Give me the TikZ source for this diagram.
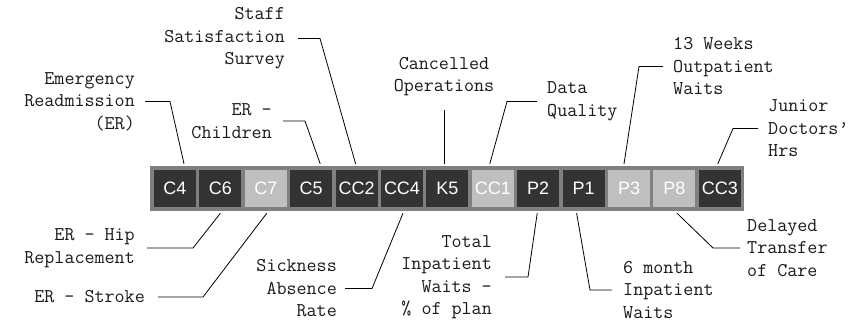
\documentclass[tikz,border=0pt]{standalone}
\usepackage{fontspec}
\newfontfamily\boxfont{Liberation Sans}
\begin{document}
\begin{tikzpicture}[x=1pt,y=-1pt,
  lbl/.style={inner sep=0pt, font=\ttfamily\addfontfeature{FakeStretch=1.085}\fontsize{19.5}{22.5}\selectfont, text=black!90},
  kpi/.style={minimum width=42pt, minimum height=37pt, inner sep=0pt,
    text=white, font=\boxfont\fontsize{18}{18}\selectfont},
  dark/.style={kpi, fill=black!80},
  light/.style={kpi, fill=black!25},
  lead/.style={draw=black, line width=0.8pt}]
\useasboundingbox (0,0) rectangle (853,321);

% strip holding the indicator boxes
\node[fill=black!50, minimum width=594pt, minimum height=45pt, inner sep=0pt] (bar) at (447,188.5) {};

\node[dark]  (c4)  at (175,188.5) {C4};
\node[dark]  (c6)  at (220.4,188.5) {C6};
\node[light] (c7)  at (265.8,188.5) {C7};
\node[dark]  (c5)  at (311.2,188.5) {C5};
\node[dark]  (cc2) at (356.6,188.5) {CC2};
\node[dark]  (cc4) at (402,188.5) {CC4};
\node[dark]  (k5)  at (447.4,188.5) {K5};
\node[light] (cc1) at (492.8,188.5) {CC1};
\node[dark]  (p2)  at (538.2,188.5) {P2};
\node[dark]  (p1)  at (583.6,188.5) {P1};
\node[light] (p3)  at (629,188.5) {P3};
\node[light] (p8)  at (674.4,188.5) {P8};
\node[dark]  (cc3) at (719.8,188.5) {CC3};

% labels above the strip
\node[lbl, align=right, anchor=east]  (emerg)  at (135,101.5) {Emergency\\Readmission\\(ER)};
\node[lbl, align=right, anchor=east]  (staff)  at (285,38.5)  {Staff\\Satisfaction\\Survey};
\node[lbl, align=right, anchor=east]  (child)  at (272,121)   {ER -\\Children};
\node[lbl, align=center, anchor=center] (cancel) at (444,76.5) {Cancelled\\Operations};
\node[lbl, align=left, anchor=west]   (dataq)  at (547,101.5) {Data\\Quality};
\node[lbl, align=left, anchor=west]   (weeks)  at (673,66.5)  {13 Weeks\\Outpatient\\Waits};
\node[lbl, align=left, anchor=west]   (junior) at (768,128.5) {Junior\\Doctors’\\Hrs};

% labels below the strip
\node[lbl, align=right, anchor=east]  (hip)    at (135,248)   {ER – Hip\\Replacement};
\node[lbl, anchor=east]               (stroke) at (145,297)   {ER – Stroke};
\node[lbl, align=right, anchor=east]  (sick)   at (337,288.5) {Sickness\\Absence\\Rate};
\node[lbl, align=right, anchor=east]  (total)  at (492,277)   {Total\\Inpatient\\Waits -\\\% of plan};
\node[lbl, align=left, anchor=west]   (six)    at (623,290) {6 month\\Inpatient\\Waits};
\node[lbl, align=left, anchor=west]   (delay)  at (747,248)   {Delayed\\Transfer\\of Care};

% leader lines, label -> box
\draw[lead] ([xshift=10pt]emerg.east) -- (170,101.5) -- ([xshift=9pt,yshift=6pt]c4.north);
\draw[lead] ([xshift=11pt]child.east) -- (305,121) -- ([xshift=9pt,yshift=6pt]c5.north);
\draw[lead] ([xshift=13pt]staff.east) -- (320,38.5) -- ([xshift=-1pt,yshift=6pt]cc2.north);
\draw[lead] ([yshift=-14pt]cancel.south) -- ([yshift=6pt]cancel.south |- k5.north);
\draw[lead] ([xshift=-10pt]dataq.west) -- (507,101.5) -- ([xshift=-3pt,yshift=6pt]cc1.north);
\draw[lead] ([xshift=-10pt]weeks.west) -- (639,66.5) -- ([xshift=-5pt,yshift=6pt]p3.north);
\draw[lead] ([xshift=-10pt]junior.west) -- (733,128.5) -- ([xshift=-2pt,yshift=6pt]cc3.north);

\draw[lead] ([xshift=12pt]hip.east) -- (193,248) -- ([yshift=-6pt]c6.south);
\draw[lead] ([xshift=13pt]stroke.east) -- (203,297) -- ([xshift=1pt,yshift=-6pt]c7.south);
\draw[lead] ([xshift=8pt]sick.east) -- (372,288.5) -- ([xshift=1pt,yshift=-6pt]cc4.south);
\draw[lead] ([xshift=13pt]total.east) -- (528,277) -- ([xshift=-1pt,yshift=-6pt]p2.south);
\draw[lead] ([xshift=-11pt]six.west) -- (590,290) -- ([xshift=-7pt,yshift=-6pt]p1.south);
\draw[lead] ([xshift=-7pt]delay.west) -- (713,248) -- ([xshift=2.6pt,yshift=-6pt]p8.south);
\end{tikzpicture}
\end{document}
